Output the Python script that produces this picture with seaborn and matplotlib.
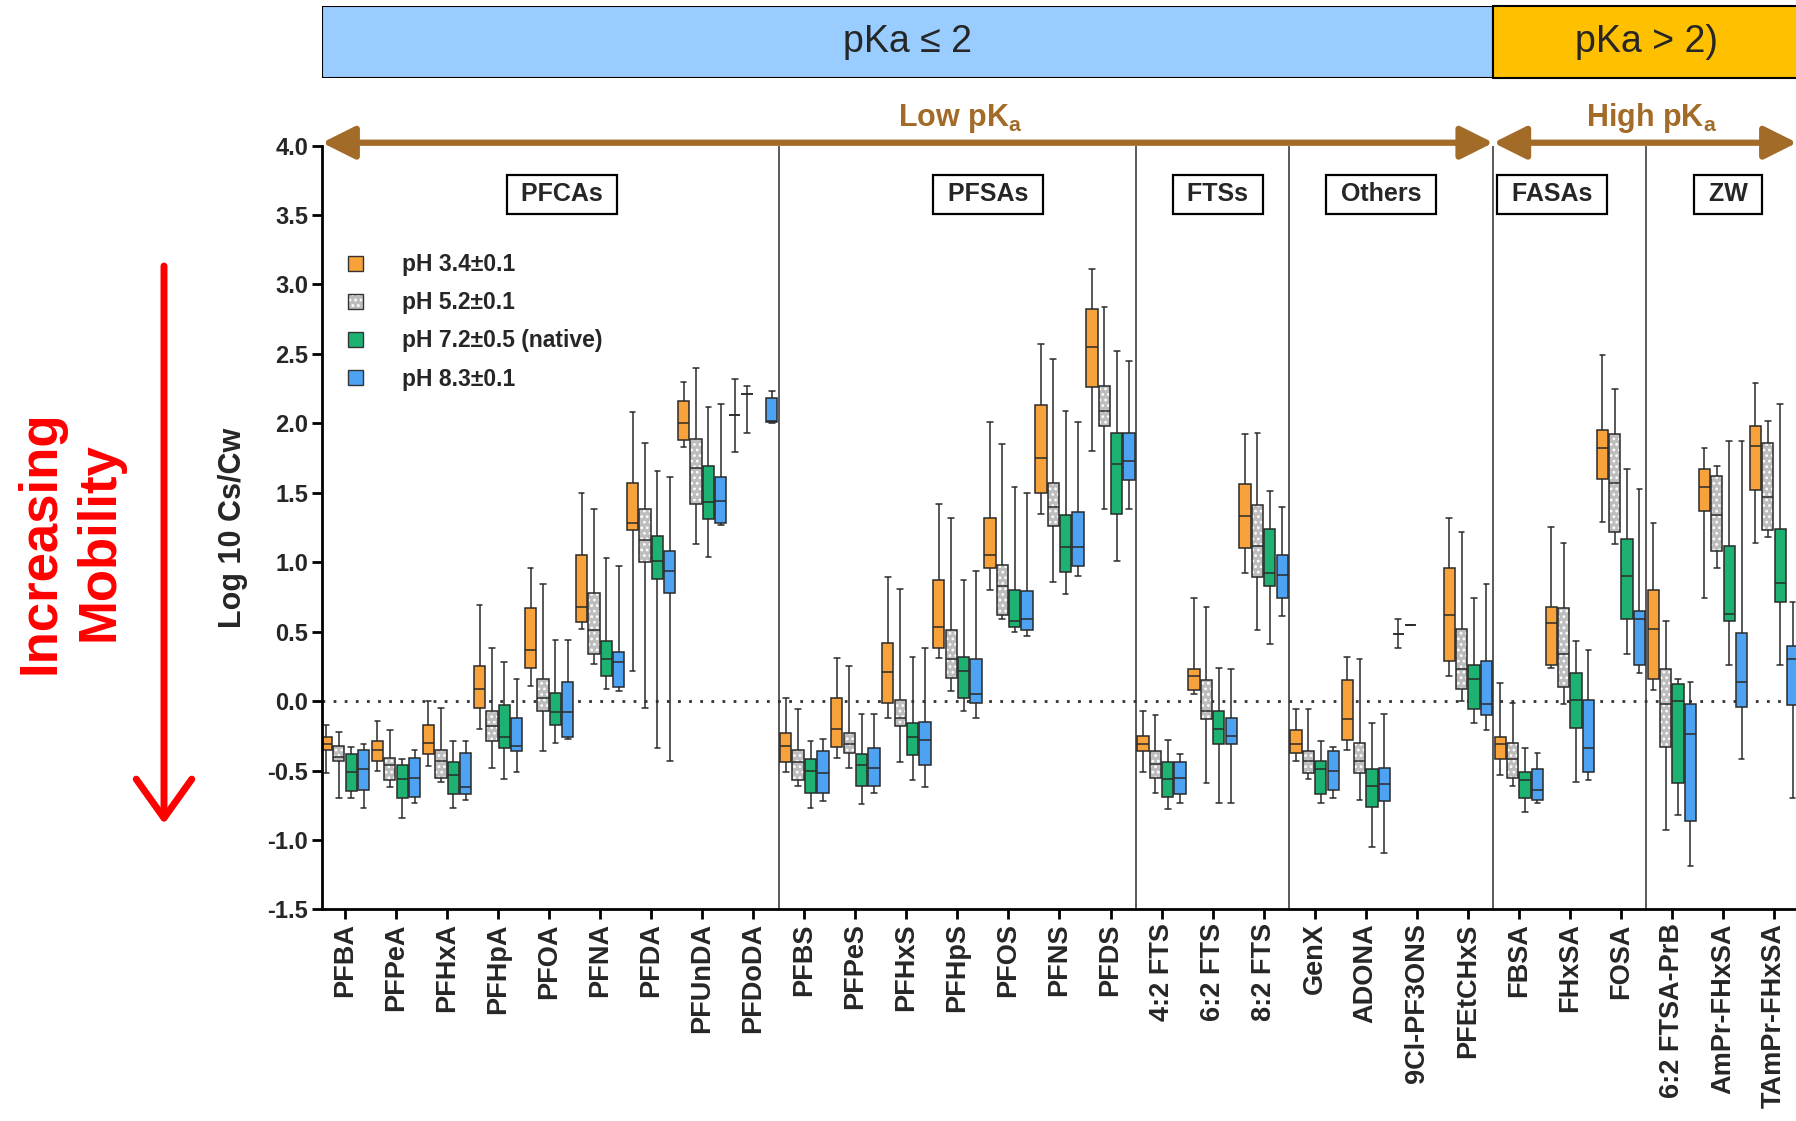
import numpy as np
import pandas as pd
import matplotlib
matplotlib.use("Agg")
import matplotlib.pyplot as plt
import matplotlib.colors as mcolors
from matplotlib.patches import Rectangle, Patch, FancyArrowPatch
import seaborn as sns

# ---------------------------------------------------------------- data
COMPOUNDS = ["PFBA", "PFPeA", "PFHxA", "PFHpA", "PFOA", "PFNA", "PFDA", "PFUnDA", "PFDoDA",
             "PFBS", "PFPeS", "PFHxS", "PFHpS", "PFOS", "PFNS", "PFDS",
             "4:2 FTS", "6:2 FTS", "8:2 FTS",
             "GenX", "ADONA", "9Cl-PF3ONS", "PFEtCHxS",
             "FBSA", "FHxSA", "FOSA",
             "6:2 FTSA-PrB", "AmPr-FHxSA", "TAmPr-FHxSA"]

PH_LABELS = ["pH 3.4±0.1", "pH 5.2±0.1", "pH 7.2±0.5 (native)", "pH 8.3±0.1"]

GROUPS = ["PFCAs", "PFSAs", "FTSs", "Others", "FASAs", "ZW"]

# five-number summaries per compound: (min, q1, median, q3, max); None = not measured
PH34 = [(-0.52, -0.35, -0.31, -0.26, -0.17), (-0.50, -0.43, -0.35, -0.29, -0.14),
        (-0.47, -0.38, -0.30, -0.17, 0.00), (-0.20, -0.05, 0.09, 0.25, 0.69),
        (0.11, 0.24, 0.37, 0.67, 0.96), (0.52, 0.57, 0.68, 1.05, 1.50),
        (0.22, 1.23, 1.28, 1.57, 2.08), (1.83, 1.88, 2.00, 2.16, 2.30),
        (1.79, 2.06, 2.06, 2.06, 2.32),
        (-0.51, -0.44, -0.32, -0.23, 0.02), (-0.41, -0.33, -0.20, 0.02, 0.31),
        (-0.12, -0.01, 0.21, 0.42, 0.89), (0.31, 0.38, 0.53, 0.87, 1.42),
        (0.80, 0.96, 1.05, 1.32, 2.01), (1.35, 1.50, 1.75, 2.13, 2.57),
        (1.80, 2.26, 2.55, 2.82, 3.11),
        (-0.51, -0.36, -0.31, -0.25, -0.07), (0.05, 0.08, 0.18, 0.23, 0.74),
        (0.92, 1.10, 1.33, 1.56, 1.92),
        (-0.43, -0.37, -0.31, -0.21, -0.06), (-0.35, -0.28, -0.13, 0.15, 0.32),
        (0.38, 0.48, 0.48, 0.48, 0.59), (0.18, 0.29, 0.62, 0.96, 1.32),
        (-0.53, -0.42, -0.31, -0.26, 0.13), (0.24, 0.26, 0.56, 0.68, 1.25),
        (1.29, 1.60, 1.82, 1.95, 2.49),
        (0.08, 0.16, 0.52, 0.80, 1.28), (0.74, 1.37, 1.54, 1.67, 1.82),
        (1.14, 1.52, 1.84, 1.98, 2.29)]

PH52 = [(-0.70, -0.43, -0.40, -0.32, -0.22), (-0.62, -0.57, -0.46, -0.41, -0.21),
        (-0.58, -0.55, -0.43, -0.35, -0.05), (-0.48, -0.29, -0.18, -0.07, 0.38),
        (-0.36, -0.07, 0.02, 0.16, 0.84), (0.27, 0.34, 0.51, 0.78, 1.38),
        (-0.05, 1.00, 1.16, 1.38, 1.86), (1.13, 1.42, 1.68, 1.89, 2.40),
        (1.93, 2.21, 2.21, 2.21, 2.27),
        (-0.61, -0.57, -0.44, -0.35, -0.06), (-0.48, -0.37, -0.31, -0.23, 0.25),
        (-0.44, -0.18, -0.12, 0.01, 0.81), (0.07, 0.17, 0.30, 0.51, 1.32),
        (0.59, 0.62, 0.83, 0.98, 1.85), (0.86, 1.26, 1.40, 1.57, 2.46),
        (1.38, 1.98, 2.09, 2.27, 2.84),
        (-0.66, -0.55, -0.45, -0.36, -0.10), (-0.59, -0.13, -0.07, 0.15, 0.68),
        (0.51, 0.89, 1.12, 1.41, 1.93),
        (-0.56, -0.52, -0.43, -0.36, -0.06), (-0.71, -0.52, -0.43, -0.30, 0.30),
        (0.55, 0.55, 0.55, 0.55, 0.55), (0.00, 0.09, 0.23, 0.52, 1.22),
        (-0.61, -0.55, -0.42, -0.30, -0.01), (-0.02, 0.10, 0.34, 0.67, 1.14),
        (1.13, 1.22, 1.57, 1.92, 2.25),
        (-0.93, -0.33, -0.02, 0.23, 0.58), (0.96, 1.08, 1.34, 1.62, 1.69),
        (1.18, 1.23, 1.47, 1.86, 2.02)]

PH72 = [(-0.70, -0.65, -0.51, -0.38, -0.33), (-0.84, -0.70, -0.56, -0.46, -0.42),
        (-0.77, -0.67, -0.53, -0.44, -0.29), (-0.56, -0.34, -0.26, -0.03, 0.28),
        (-0.30, -0.17, -0.08, 0.06, 0.44), (0.09, 0.18, 0.30, 0.43, 1.03),
        (-0.34, 0.88, 1.01, 1.19, 1.66), (1.04, 1.31, 1.43, 1.69, 2.12),
        None,
        (-0.77, -0.66, -0.50, -0.42, -0.29), (-0.74, -0.61, -0.46, -0.38, -0.09),
        (-0.57, -0.39, -0.26, -0.16, 0.32), (-0.07, 0.02, 0.22, 0.32, 0.87),
        (0.50, 0.53, 0.58, 0.80, 1.54), (0.77, 0.93, 1.11, 1.34, 2.09),
        (1.01, 1.35, 1.71, 1.93, 2.52),
        (-0.78, -0.69, -0.56, -0.44, -0.28), (-0.73, -0.31, -0.20, -0.07, 0.24),
        (0.41, 0.83, 0.92, 1.24, 1.51),
        (-0.73, -0.67, -0.49, -0.43, -0.29), (-1.05, -0.76, -0.61, -0.49, -0.16),
        None, (-0.16, -0.06, 0.16, 0.26, 0.74),
        (-0.80, -0.70, -0.57, -0.51, -0.34), (-0.58, -0.19, 0.01, 0.20, 0.43),
        (0.34, 0.59, 0.90, 1.17, 1.67),
        (-0.82, -0.59, 0.00, 0.12, 0.16), (0.26, 0.58, 0.63, 1.12, 1.87),
        (0.26, 0.71, 0.85, 1.24, 2.14)]

PH83 = [(-0.77, -0.64, -0.49, -0.35, -0.31), (-0.73, -0.69, -0.55, -0.41, -0.35),
        (-0.71, -0.67, -0.62, -0.37, -0.29), (-0.51, -0.36, -0.32, -0.12, 0.16),
        (-0.27, -0.26, -0.08, 0.14, 0.44), (0.07, 0.10, 0.28, 0.35, 0.97),
        (-0.43, 0.78, 0.94, 1.08, 1.61), (1.27, 1.28, 1.44, 1.61, 2.14),
        (2.00, 2.01, 2.02, 2.18, 2.23),
        (-0.72, -0.66, -0.52, -0.36, -0.27), (-0.66, -0.61, -0.48, -0.34, -0.09),
        (-0.62, -0.46, -0.28, -0.15, 0.38), (-0.12, -0.01, 0.05, 0.30, 0.94),
        (0.47, 0.51, 0.59, 0.79, 1.50), (0.90, 0.97, 1.11, 1.36, 2.01),
        (1.38, 1.59, 1.73, 1.93, 2.45),
        (-0.73, -0.67, -0.55, -0.44, -0.38), (-0.73, -0.31, -0.25, -0.12, 0.23),
        (0.61, 0.74, 0.91, 1.05, 1.40),
        (-0.70, -0.64, -0.50, -0.36, -0.33), (-1.09, -0.72, -0.60, -0.48, -0.09),
        None, (-0.21, -0.10, -0.02, 0.29, 0.84),
        (-0.73, -0.71, -0.64, -0.49, -0.37), (-0.57, -0.51, -0.34, 0.01, 0.37),
        (0.20, 0.26, 0.59, 0.65, 1.53),
        (-1.19, -0.86, -0.24, -0.02, 0.14), (-0.42, -0.04, 0.14, 0.49, 1.87),
        (-0.70, -0.03, 0.30, 0.40, 0.71)]

SERIES = [PH34, PH52, PH72, PH83]

# ---------------------------------------------------------------- styling
ORANGE, GRAY, GREEN, BLUE = "#F7A23A", "#BDBDBD", "#1DB271", "#4DA2F2"
BROWN = "#A26B28"
PALETTE = dict(zip(PH_LABELS, [ORANGE, GRAY, GREEN, BLUE]))

sns.set_style("ticks")
plt.rcParams["font.family"] = ["Liberation Sans", "DejaVu Sans"]
plt.rcParams["mathtext.fontset"] = "custom"
plt.rcParams["mathtext.rm"] = "Liberation Sans"
plt.rcParams["mathtext.bf"] = "Liberation Sans:bold"
plt.rcParams["mathtext.it"] = "Liberation Sans:italic"
plt.rcParams["hatch.linewidth"] = 1.2

# long-form table: each summary becomes five points so that the
# box (q1/median/q3) and the full-range whiskers reproduce it exactly
rows = []
for label, series in zip(PH_LABELS, SERIES):
    for comp, summ in zip(COMPOUNDS, series):
        if summ is None:
            continue
        for v in summ:
            rows.append({"compound": comp, "pH": label, "value": v})
df = pd.DataFrame(rows)

fig = plt.figure(figsize=(17.96, 11.21), dpi=100)
AX_L, AX_B, AX_W, AX_H = 0.1793, 0.1887, 0.8255, 0.6815
ax = fig.add_axes([AX_L, AX_B, AX_W, AX_H])

sns.boxplot(data=df, x="compound", y="value", hue="pH", order=COMPOUNDS,
            hue_order=PH_LABELS, palette=PALETTE, saturation=1,
            whis=(0, 100), width=0.97, gap=0.09, showfliers=False,
            linecolor="#2a2a2a", linewidth=1.1, legend=False, ax=ax)

def white_hatch(patch):
    patch.set_hatch("...")
    if hasattr(patch, "set_hatchcolor"):
        patch.set_hatchcolor("white")
    else:
        patch._hatch_color = mcolors.to_rgba("white")

gray_rgba = mcolors.to_rgba(GRAY)
for p in ax.patches:
    if np.allclose(p.get_facecolor(), gray_rgba, atol=0.02):
        white_hatch(p)

X0, X1 = -0.45, 28.6
ax.set_xlim(X0, X1)
ax.set_ylim(-1.5, 4.0)

# group separators and zero line
for xs in [8.5, 15.5, 18.5, 22.5, 25.5]:
    ax.axvline(xs, color="#5a5a5a", lw=1.4, zorder=0.5)
ax.axhline(0, color="#333333", lw=2.0, ls=(0, (1, 3)), zorder=0.6)

# axes decoration
for s in ["top", "right"]:
    ax.spines[s].set_visible(False)
for s in ["left", "bottom"]:
    ax.spines[s].set_linewidth(2.0)
    ax.spines[s].set_color("black")
yt = np.arange(-1.5, 4.01, 0.5)
ax.set_yticks(yt)
ax.set_yticklabels([f"{v:.1f}" for v in yt], fontsize=17, fontweight="bold")
ax.set_xticks(range(len(COMPOUNDS)))
ax.set_xticklabels(COMPOUNDS, rotation=90, fontsize=19.5, fontweight="bold")
ax.tick_params(axis="both", direction="out", length=7, width=2, color="black", pad=3)
ax.set_xlabel("")
ax.set_ylabel("Log 10 Cs/Cw", fontsize=22, fontweight="bold", labelpad=14)

# compound-class labels
for name, gx in zip(GROUPS, [4.25, 12.6, 17.1, 20.3, 23.65, 27.1]):
    ax.text(gx, 3.65, f" {name} ", ha="center", va="center", fontsize=18, fontweight="bold",
            bbox=dict(boxstyle="square,pad=0.3", fc="white", ec="black", lw=1.6), zorder=5)

# pKa double arrows
arrow_kw = dict(arrowstyle="<|-|>,head_length=1.0,head_width=0.5", lw=4.5, color=BROWN,
                mutation_scale=20, shrinkA=0, shrinkB=0)
ax.annotate("", xy=(22.5, 4.02), xytext=(X0, 4.02), arrowprops=arrow_kw,
            annotation_clip=False, zorder=6)
ax.annotate("", xy=(28.45, 4.02), xytext=(22.5, 4.02), arrowprops=arrow_kw,
            annotation_clip=False, zorder=6)
ax.text(12.05, 4.14, r"$\mathbf{Low\ pK_a}$", ha="center", va="baseline",
        fontsize=22, color=BROWN, clip_on=False)
ax.text(25.6, 4.14, r"$\mathbf{High\ pK_a}$", ha="center", va="baseline",
        fontsize=22, color=BROWN, clip_on=False)

# legend
handles = []
for lab, col in PALETTE.items():
    h = Patch(facecolor=col, edgecolor="#333333", lw=1.0)
    if col == GRAY:
        white_hatch(h)
    handles.append(h)
leg = ax.legend(handles, PH_LABELS, loc="upper left", bbox_to_anchor=(0.0175, 0.859),
                frameon=False, borderaxespad=0, borderpad=0, handlelength=0.64,
                handleheight=0.64, handletextpad=1.72, labelspacing=0.66,
                prop={"size": 16.5, "weight": "bold"})
for p in leg.get_patches():
    if np.allclose(p.get_facecolor(), gray_rgba, atol=0.02):
        white_hatch(p)

# pKa banner above the plot
bax = fig.add_axes([AX_L, 0.9304, AX_W, 0.0645], sharex=ax)
bax.set_ylim(0, 1)
bax.axis("off")
bax.add_patch(Rectangle((X0, 0), 22.5 - X0, 1, fc="#99CCFF", ec="black", lw=1.5))
bax.add_patch(Rectangle((22.5, 0), 10, 1, fc="#FFC000", ec="black", lw=1.5, clip_on=False))
bax.text((X0 + 22.5) / 2, 0.5, "pKa ≤ 2", ha="center", va="center", fontsize=27)
bax.text(25.5, 0.5, "pKa > 2)", ha="center", va="center", fontsize=27)

# mobility annotation on the left
fig.text(70 / 1796, 1 - 542 / 1121, "Increasing\nMobility", rotation=90, ha="center",
         va="center", multialignment="center", linespacing=1.25, color="#FF0000",
         fontsize=38, fontweight="bold")
fig.add_artist(FancyArrowPatch(posA=(164 / 1796, 1 - 266 / 1121),
                               posB=(164 / 1796, 1 - 824 / 1121),
                               transform=fig.transFigure,
                               arrowstyle="->,head_length=0.7,head_width=0.5",
                               mutation_scale=40, lw=5, color="#FF0000",
                               shrinkA=0, shrinkB=0))

fig.savefig("out.png", dpi=100)
